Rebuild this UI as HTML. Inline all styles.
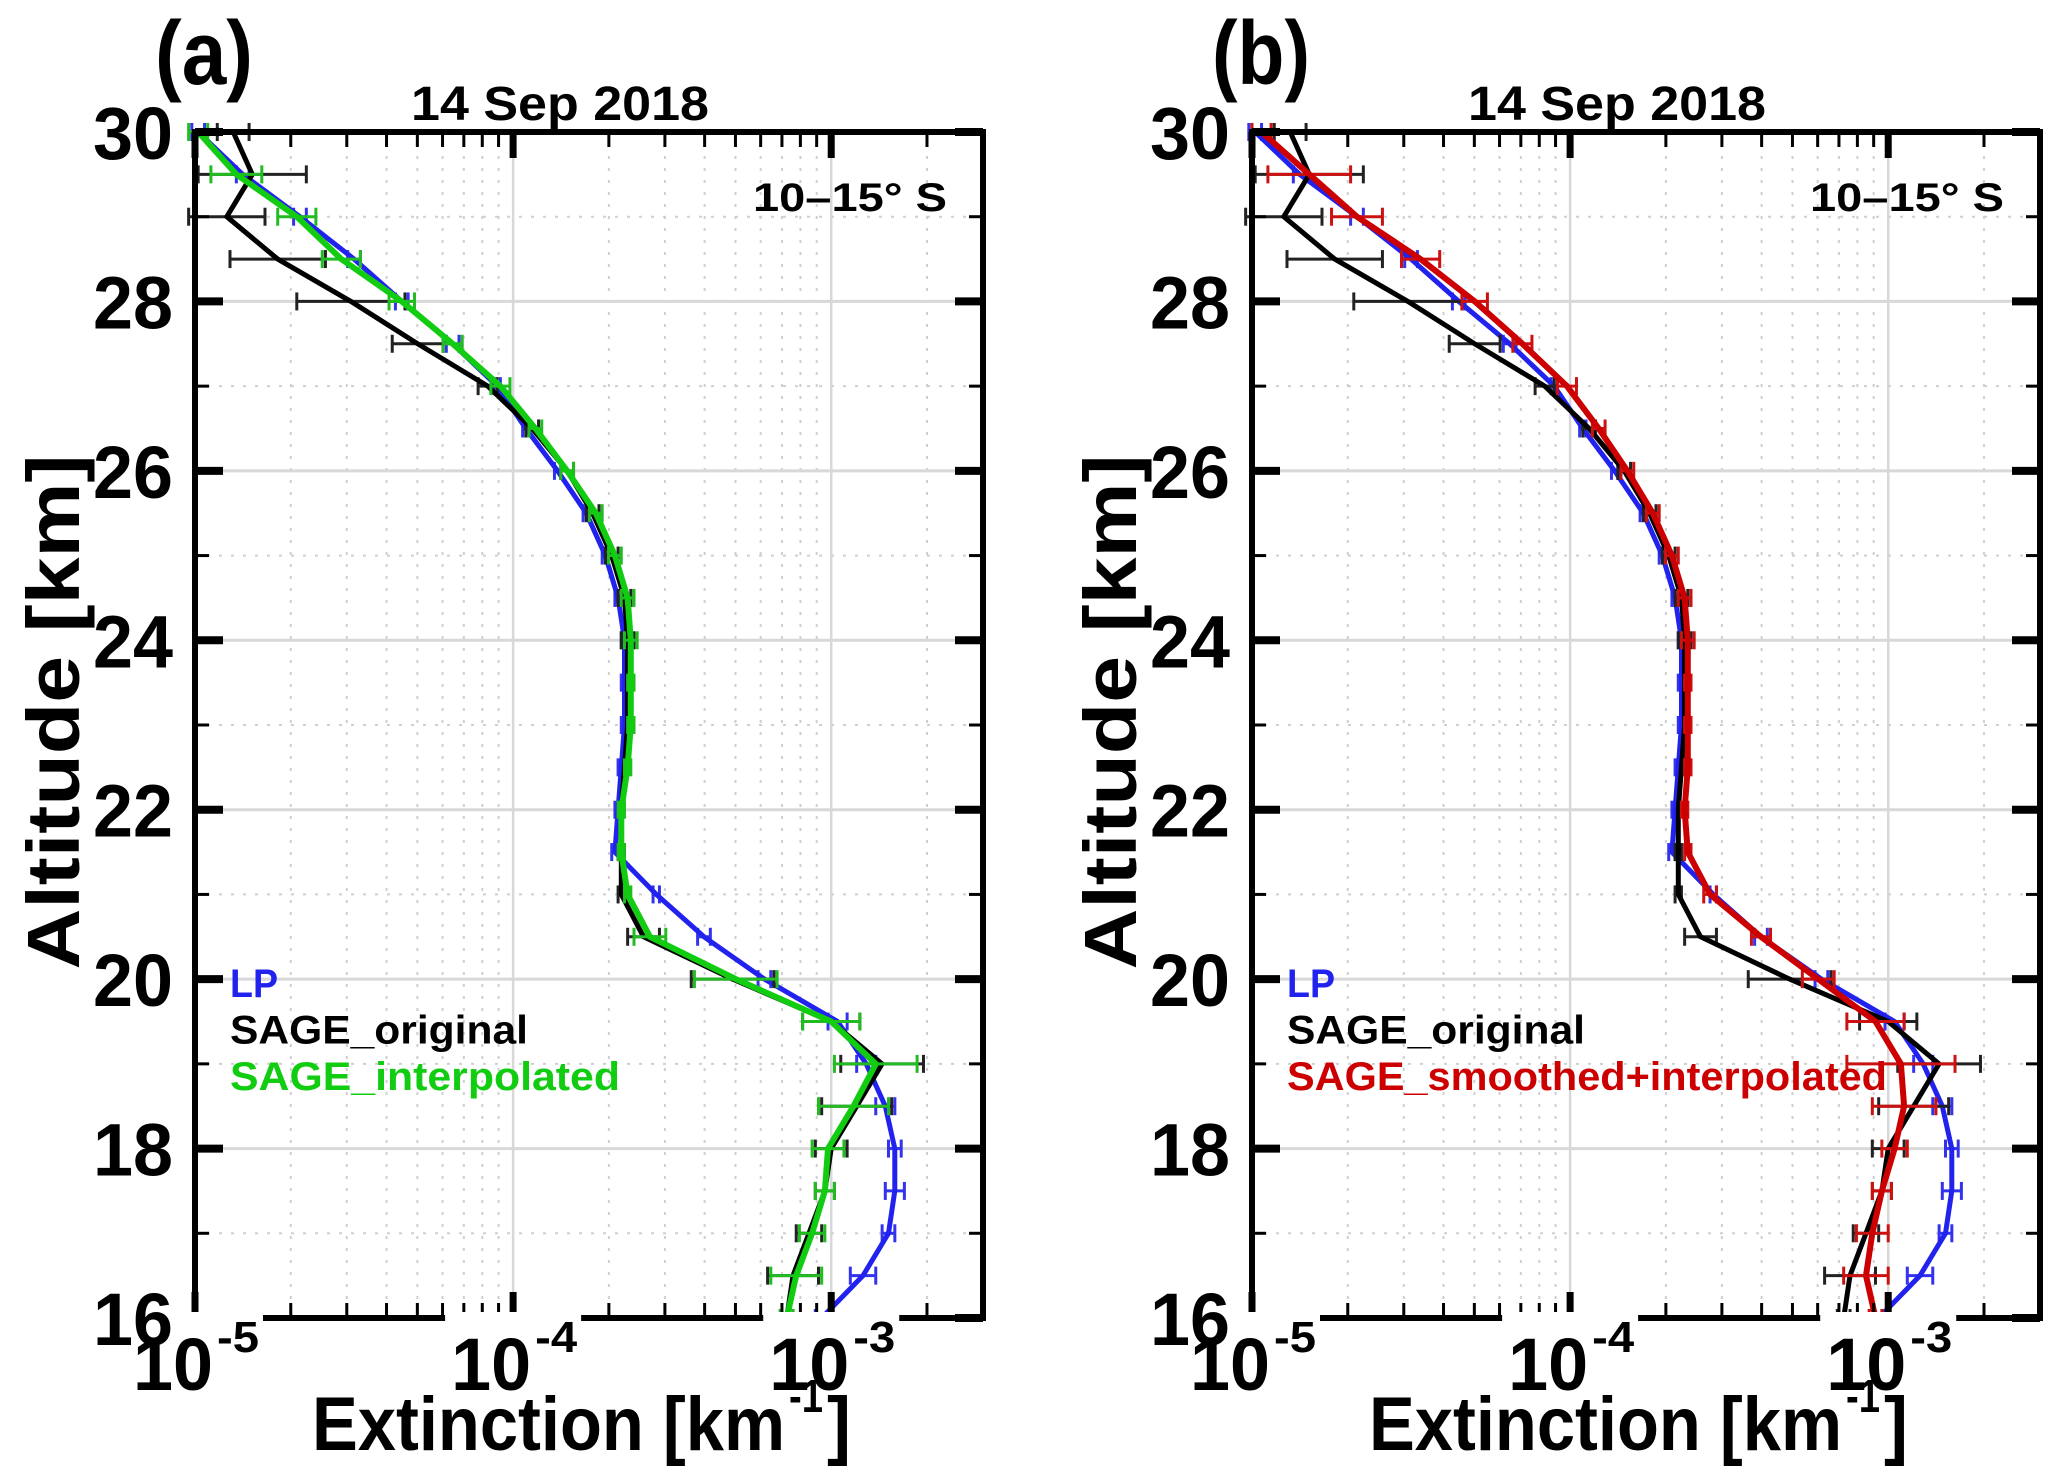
<!DOCTYPE html>
<html><head><meta charset="utf-8"><style>
html,body{margin:0;padding:0;background:#fff;}
svg{display:block;font-family:"Liberation Sans",sans-serif;font-weight:bold;}
</style></head><body>
<svg id="fig" width="2067" height="1484" viewBox="0 0 2067 1484"></svg>
<script>
const alts=[30,29.5,29,28.5,28,27.5,27,26.5,26,25.5,25,24.5,24,23.5,23,22.5,22,21.5,21,20.5,20,19.5,19,18.5,18,17.5,17,16.5,16];
const lpLog=[-4.99,-4.85,-4.67,-4.50,-4.35,-4.19,-4.05,-3.96,-3.86,-3.77,-3.71,-3.67,-3.65,-3.65,-3.65,-3.66,-3.67,-3.68,-3.55,-3.40,-3.21,-2.98,-2.89,-2.83,-2.80,-2.80,-2.82,-2.90,-3.03];
const lpErr=[0.02,0.02,0.02,0.02,0.02,0.02,0.01,0.01,0.01,0.01,0.01,0.01,0.01,0.01,0.01,0.01,0.01,0.01,0.01,0.02,0.02,0.03,0.03,0.03,0.02,0.03,0.02,0.04,0.02];
const origLog=[-4.88,-4.82,-4.90,-4.74,-4.51,-4.30,-4.08,-3.94,-3.83,-3.75,-3.69,-3.65,-3.64,-3.64,-3.64,-3.65,-3.66,-3.66,-3.66,-3.59,-3.31,-3.00,-2.84,-2.92,-3.00,-3.02,-3.07,-3.12,-3.14];
const origErr=[0.05,0.17,0.12,0.15,0.17,0.08,0.03,0.02,0.02,0.02,0.02,0.02,0.02,0,0,0,0,0.01,0.01,0.05,0.13,0.09,0.13,0.11,0.05,0.03,0.04,0.08,0.02];
const interpLog=[-4.99,-4.87,-4.68,-4.54,-4.35,-4.19,-4.04,-3.93,-3.83,-3.74,-3.68,-3.64,-3.63,-3.63,-3.63,-3.64,-3.66,-3.66,-3.64,-3.57,-3.30,-3.00,-2.86,-2.93,-3.01,-3.02,-3.06,-3.11,-3.14];
const interpErr=[0.03,0.08,0.06,0.06,0.04,0.03,0.03,0.02,0.02,0.02,0.02,0.02,0.02,0.01,0.01,0.01,0.01,0.01,0.01,0.05,0.13,0.09,0.13,0.11,0.05,0.03,0.04,0.08,0.02];
const smoothLog=[-4.97,-4.82,-4.67,-4.47,-4.30,-4.15,-4.01,-3.91,-3.82,-3.74,-3.68,-3.64,-3.63,-3.63,-3.63,-3.63,-3.64,-3.63,-3.56,-3.40,-3.22,-3.04,-2.96,-2.95,-2.98,-3.02,-3.05,-3.07,-3.04];
const smoothErr=[0.03,0.13,0.08,0.06,0.04,0.03,0.03,0.02,0.02,0.02,0.02,0.02,0.02,0.01,0.01,0.01,0.01,0.01,0.02,0.03,0.05,0.09,0.17,0.10,0.04,0.03,0.05,0.07,0.02];
const yTicks=[16,18,20,22,24,26,28,30];
const xDecades=[-5,-4,-3];

const NS="http://www.w3.org/2000/svg";
const svg=document.getElementById('fig');
function mk(tag,attrs,parent){const e=document.createElementNS(NS,tag);for(const k in attrs)e.setAttribute(k,attrs[k]);(parent||svg).appendChild(e);return e;}

const TOP=132,BOT=1318,YMIN=16,YMAX=30,LMIN=-5,LMAX=Math.log10(3e-3),W=788;
function panel(x0,letter,series,legend){
  const g=mk('g',{});
  
  
  const X=l=>x0+(l-LMIN)/(LMAX-LMIN)*W;
  const Y=a=>BOT-(a-YMIN)/(YMAX-YMIN)*(BOT-TOP);
  for(let d=-5;d<=-3;d++){for(let m=1;m<10;m++){const l=d+Math.log10(m);if(l>LMAX+1e-9)break;const x=X(l);
    const ln=mk('line',{x1:x,x2:x,y1:TOP,y2:BOT,stroke:m==1?'#d8d8d8':'#cfcfcf','stroke-width':m==1?2.5:2,'stroke-dasharray':m==1?'':'3,9'},g);
    }}
  for(let a=17;a<30;a++){const y=Y(a);const ln=mk('line',{x1:x0,x2:x0+W,y1:y,y2:y,stroke:a%2==0?'#d8d8d8':'#cfcfcf','stroke-width':a%2==0?3:2,'stroke-dasharray':a%2==0?'':'3,9'},g);
    }
  series.forEach(s=>{
    const sg=mk('g',{},g);
    
    
    s.err.forEach((e,i)=>{if(e<=0)return;const y=Y(alts[i]);const xa=X(s.vals[i]-e),xb=X(s.vals[i]+e);
      mk('line',{x1:xa,x2:xb,y1:y,y2:y,stroke:s.ec,'stroke-width':3},sg);
      mk('line',{x1:xa,x2:xa,y1:y-9,y2:y+9,stroke:s.ec,'stroke-width':3},sg);
      mk('line',{x1:xb,x2:xb,y1:y-9,y2:y+9,stroke:s.ec,'stroke-width':3},sg);});
    const pts=s.vals.map((v,i)=>X(v).toFixed(1)+','+Y(alts[i]).toFixed(1)).join(' ');
    const pl=mk('polyline',{points:pts,fill:'none',stroke:s.color,'stroke-width':s.w,'stroke-linejoin':'round'},sg);
    
  });
  for(let d=-5;d<=-3;d++){for(let m=1;m<10;m++){const l=d+Math.log10(m);if(l>LMAX+1e-9)break;const x=X(l);const len=m==1?26:15,sw=m==1?7:3;
    mk('line',{x1:x,x2:x,y1:TOP,y2:TOP+len,stroke:'#000','stroke-width':sw},g);
    mk('line',{x1:x,x2:x,y1:BOT,y2:BOT-len,stroke:'#000','stroke-width':sw},g);}}
  for(let a=16;a<=30;a++){const y=Y(a);const len=a%2==0?28:14,sw=a%2==0?8:3;
    mk('line',{x1:x0,x2:x0+len,y1:y,y2:y,stroke:'#000','stroke-width':sw},g);
    mk('line',{x1:x0+W,x2:x0+W-len,y1:y,y2:y,stroke:'#000','stroke-width':sw},g);}
  const fr=mk('rect',{x:x0,y:TOP,width:W,height:BOT-TOP,fill:'none',stroke:'#000','stroke-width':6},g);
  
  xDecades.forEach(d=>{const x=X(d);
    mk('rect',{x:x-68,y:1312,width:136,height:80,fill:'#fff'},g);
    const t=mk('text',{x:x-62,y:1390,'font-size':74,textLength:80,lengthAdjust:'spacingAndGlyphs'},g);t.textContent='10';
    
    const e=mk('text',{x:x+22,y:1352,'font-size':44,textLength:42,lengthAdjust:'spacingAndGlyphs'},g);e.textContent=String(d);
    });
  yTicks.forEach(a=>{const t=mk('text',{x:x0-22,y:Y(a)+27,'text-anchor':'end','font-size':74,textLength:80,lengthAdjust:'spacingAndGlyphs'},g);t.textContent=a;
    });
  const tt=mk('text',{x:x0+365,y:120,'text-anchor':'middle','font-size':48,textLength:298,lengthAdjust:'spacingAndGlyphs'},g);tt.textContent='14 Sep 2018';
  
  const lt=mk('text',{x:x0-40,y:84,'font-size':90,textLength:98,lengthAdjust:'spacingAndGlyphs'},g);lt.textContent='('+letter+')';
  
  const lat=mk('text',{x:x0+752,y:211,'text-anchor':'end','font-size':40,textLength:194,lengthAdjust:'spacingAndGlyphs'},g);lat.textContent='10\u201315\u00b0 S';
  
  const yt=mk('text',{x:0,y:0,'text-anchor':'middle','font-size':74,textLength:515,lengthAdjust:'spacingAndGlyphs',transform:`translate(${x0-116},712) rotate(-90)`},g);yt.textContent='Altitude [km]';
  
  const xt=mk('text',{x:x0+117,y:1450,'font-size':76,textLength:473,lengthAdjust:'spacingAndGlyphs'},g);xt.textContent='Extinction [km';
  
  const xs=mk('text',{x:x0+594,y:1412,'font-size':46,textLength:34,lengthAdjust:'spacingAndGlyphs'},g);xs.textContent='-1';
  
  const xc=mk('text',{x:x0+632,y:1450,'font-size':76,textLength:24,lengthAdjust:'spacingAndGlyphs'},g);xc.textContent=']';
  
  legend.forEach((L,i)=>{const t=mk('text',{x:x0+35,y:997+i*46.5,fill:L.c,'font-size':40,textLength:L.w,lengthAdjust:'spacingAndGlyphs'},g);t.textContent=L.t;
    });
}
panel(195,'a',[
  {name:'lp-series',vals:lpLog,err:lpErr,color:'#2222ee',ec:'#3333ee',w:5},
  {name:'sage-original-series',vals:origLog,err:origErr,color:'#000',ec:'#222',w:5},
  {name:'sage-interpolated-series',vals:interpLog,err:interpErr,color:'#11cc11',ec:'#22bb22',w:6}
],[{t:'LP',c:'#2222ee',w:48},{t:'SAGE_original',c:'#000',w:298},{t:'SAGE_interpolated',c:'#11cc11',w:390}]);
panel(1252,'b',[
  {name:'lp-series',vals:lpLog,err:lpErr,color:'#2222ee',ec:'#3333ee',w:5},
  {name:'sage-original-series',vals:origLog,err:origErr,color:'#000',ec:'#222',w:5},
  {name:'sage-smoothed-interpolated-series',vals:smoothLog,err:smoothErr,color:'#cc0000',ec:'#cc1111',w:6}
],[{t:'LP',c:'#2222ee',w:48},{t:'SAGE_original',c:'#000',w:298},{t:'SAGE_smoothed+interpolated',c:'#cc0000',w:600}]);
</script>
</body></html>
